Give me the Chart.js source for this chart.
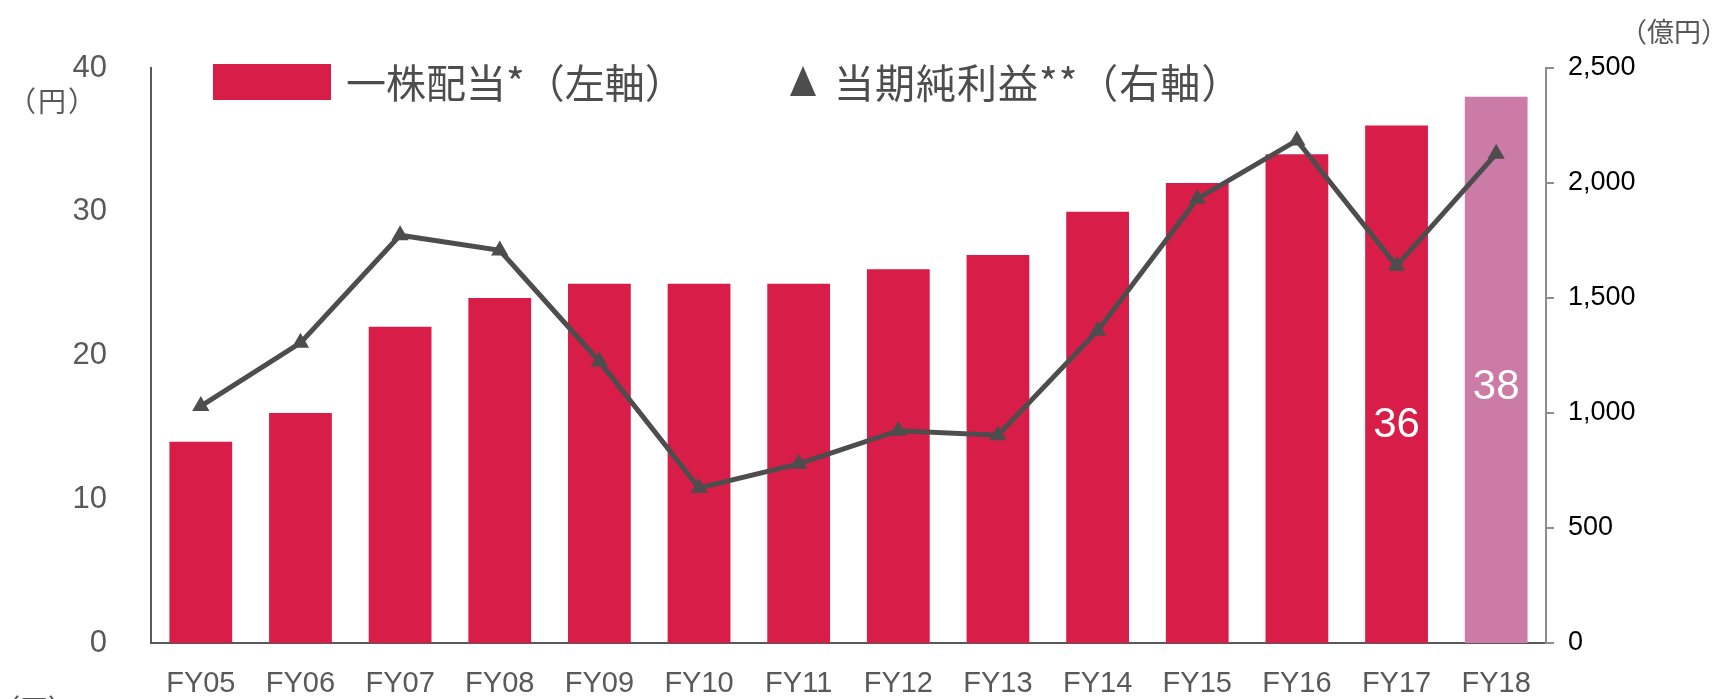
<!DOCTYPE html>
<html>
<head>
<meta charset="utf-8">
<script src="https://cdn.jsdelivr.net/npm/chart.js@4.4.1/dist/chart.umd.min.js"></script>
<style>
  body { margin: 0; background: #fff; }
  .wrap { position: relative; width: 1720px; height: 699px; overflow: hidden; font-family: "Liberation Sans", "Noto Sans CJK JP", sans-serif; }
  .unit { position: absolute; color: #595959; font-size: 28px; font-family: "Noto Sans CJK JP", sans-serif; white-space: nowrap; line-height: 1; }
  .legend { position: absolute; top: 57px; left: 0; height: 50px; color: #4d4d4d; font-size: 40px; font-family: "Noto Sans CJK JP", sans-serif; white-space: nowrap; line-height: 1; }
  .legend .box { position: absolute; left: 213px; top: 7px; width: 118px; height: 36px; background: #d81e48; }
  .legend .tri { position: absolute; left: 790px; top: 9px; width: 0; height: 0; border-left: 13px solid transparent; border-right: 13px solid transparent; border-bottom: 30px solid #4d4d4d; }
</style>
</head>
<body>
<div class="wrap">
  <canvas id="chart" width="1720" height="699"></canvas>
  <div class="unit" style="left:8px; top:86px; letter-spacing:2px;">（円）</div>
  <div class="unit" style="left:1620px; top:17px; font-size:27px;">（億円）</div>
  <div class="unit" style="left:-8px; top:694px;">（円）</div>
  <div class="legend">
    <div class="box"></div>
    <span style="position:absolute; left:346px; top:4px;">一株配当*（左軸）</span>
    <div class="tri"></div>
    <span style="position:absolute; left:834px; top:4px; letter-spacing:1px;">当期純利益**（右軸）</span>
  </div>
</div>
<script>
// categories and values
const years = ["FY05", "FY06", "FY07", "FY08", "FY09", "FY10", "FY11", "FY12", "FY13", "FY14", "FY15", "FY16", "FY17", "FY18"];
const dividend = [14, 16, 22, 24, 25, 25, 25, 26, 27, 30, 32, 34, 36, 38]; // 円, left axis
const netIncome = [1030, 1305, 1773, 1707, 1224, 674, 779, 923, 903, 1358, 1931, 2185, 1640, 2127]; // 億円, right axis
const barLabels = ["", "", "", "", "", "", "", "", "", "", "", "", "36", "38"];
const leftTicks = [0, 10, 20, 30, 40];
const rightTicks = [0, 500, 1000, 1500, 2000, 2500];

const RED = "#d81e48";
const PINK = "#cc7ba6";
const DARK = "#4d4d4d";

var barColors = years.map((y, i) => i == years.length - 1 ? PINK : RED);

// white numbers inside the last two bars
const barLabelPlugin = {
  id: "barLabels",
  afterDatasetsDraw(chart) {
    const meta = chart.getDatasetMeta(0);
    const ctx = chart.ctx;
    ctx.save();
    ctx.fillStyle = "#fff";
    ctx.font = "42px 'Liberation Sans', sans-serif";
    ctx.textAlign = "center";
    ctx.textBaseline = "middle";
    meta.data.forEach((bar, i) => {
      if (!barLabels[i]) return;
      let offset = i == years.length - 1 ? 291 : 300;
      ctx.fillText(barLabels[i], bar.x, bar.y + offset);
    });
    ctx.restore();
  }
};

var config = {
  data: {
    labels: years,
    datasets: [
      {
        type: "bar",
        label: "一株配当*（左軸）",
        data: dividend,
        backgroundColor: barColors,
        borderWidth: 0,
        yAxisID: "y",
        categoryPercentage: 1,
        barPercentage: 0.63,
        order: 1
      },
      {
        type: "line",
        label: "当期純利益**（右軸）",
        data: netIncome,
        borderColor: DARK,
        backgroundColor: DARK,
        borderWidth: 5,
        pointStyle: "triangle",
        pointRadius: 10,
        pointBorderWidth: 0,
        tension: 0,
        yAxisID: "y1",
        order: 0
      }
    ]
  },
  options: {
    responsive: false,
    animation: false,
    layout: { padding: { top: 68, left: 0, right: 0, bottom: 0 } },
    plugins: {
      legend: { display: false },
      tooltip: { enabled: false }
    },
    scales: {
      x: {
        grid: { display: false },
        border: { display: true, color: "#595959", width: 2 },
        ticks: { color: "#595959", font: { size: 29, family: "'Liberation Sans', sans-serif" }, padding: 16, maxRotation: 0 },
        afterFit: (s) => { s.height = 56; }
      },
      y: {
        position: "left",
        min: 0,
        max: 40,
        grid: { display: false },
        border: { display: true, color: "#595959", width: 2 },
        afterBuildTicks: (s) => { s.ticks = leftTicks.map(v => ({ value: v })); },
        ticks: { color: "#595959", font: { size: 31, family: "'Liberation Sans', sans-serif" }, padding: 36 },
        afterFit: (s) => { s.width = 151; }
      },
      y1: {
        position: "right",
        min: 0,
        max: 2500,
        grid: { drawOnChartArea: false, drawTicks: true, tickLength: 8, color: "#8c8c8c", lineWidth: 2 },
        border: { display: true, color: "#8c8c8c", width: 2 },
        afterBuildTicks: (s) => { s.ticks = rightTicks.map(v => ({ value: v })); },
        ticks: {
          color: "#000",
          font: { size: 27, family: "'Liberation Sans', sans-serif" },
          padding: 14,
          callback: (v) => v.toLocaleString("en-US")
        },
        afterFit: (s) => { s.width = 174; }
      }
    }
  },
  plugins: [barLabelPlugin]
};

var myChart = new Chart(document.getElementById("chart"), config);
</script>
</body>
</html>
